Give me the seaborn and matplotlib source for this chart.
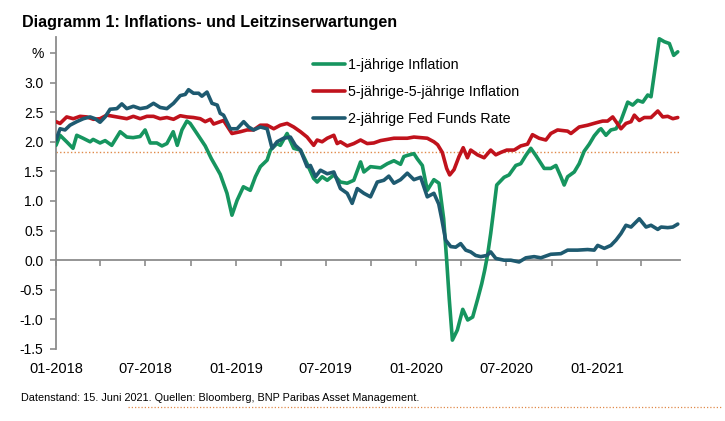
import numpy as np
import pandas as pd
import matplotlib
matplotlib.use("Agg")
import matplotlib.pyplot as plt
import matplotlib.dates as mdates
from matplotlib.lines import Line2D
import seaborn as sns

# ---------------- data (x = months since 01-2018) ----------------
green_m = [0, 0.27, 0.71, 1.13, 1.38, 1.8, 2.27, 2.47, 2.93, 3.27, 3.71, 4.27, 4.71, 5.13, 5.6, 5.93,
           6.27, 6.71, 7.05, 7.38, 7.8, 8.07, 8.38, 8.71, 8.93, 9.38, 9.93, 10.33, 10.71, 10.93, 11.38,
           11.71, 12.05, 12.47, 12.93, 13.27, 13.6, 14.05, 14.27, 14.71, 14.93, 15.38, 15.82, 16.27,
           16.71, 17.15, 17.38, 17.71, 18.05, 18.49, 18.93, 19.38, 19.82, 20.27, 20.49, 20.93, 21.6,
           22.05, 22.49, 22.93, 23.15, 23.38, 23.82, 24.05, 24.38, 24.71, 25.15, 25.49, 25.8, 26.0,
           26.17, 26.38, 26.71, 27.07, 27.4, 27.73, 28.07, 28.33, 28.53, 28.73, 28.93, 29.07, 29.33,
           29.82, 30.15, 30.6, 30.93, 31.27, 31.6, 31.93, 32.49, 32.93, 33.27, 33.6, 33.82, 34.05,
           34.49, 34.82, 35.15, 35.49, 35.82, 36.15, 36.27, 36.6, 36.93, 37.27, 37.6, 38.05, 38.38,
           38.71, 39.05, 39.38, 39.6, 39.82, 40.15, 40.49, 40.82, 41.11, 41.38]
green_v = [1.94, 2.11, 2.0, 1.89, 2.11, 2.06, 2.0, 2.04, 1.98, 2.02, 1.94, 2.17, 2.08, 2.07, 2.09, 2.2,
           1.98, 1.98, 1.93, 1.97, 2.17, 1.94, 2.2, 2.35, 2.31, 2.14, 1.93, 1.72, 1.55, 1.45, 1.13,
           0.76, 1.01, 1.24, 1.18, 1.41, 1.58, 1.69, 1.86, 1.97, 1.94, 2.14, 1.89, 1.86,
           1.63, 1.38, 1.32, 1.41, 1.35, 1.44, 1.32, 1.3, 1.35, 1.66, 1.49, 1.58, 1.56,
           1.63, 1.68, 1.62, 1.75, 1.77, 1.8, 1.71, 1.6, 1.18, 1.36, 1.3, 0.7, 0.0,
           -0.65, -1.35, -1.18, -0.83, -1.01, -0.96, -0.65, -0.4, -0.17, 0.1, 0.45, 0.73, 1.27,
           1.4, 1.44, 1.6, 1.63, 1.77, 1.89, 1.77, 1.55, 1.55, 1.6, 1.41, 1.27, 1.41,
           1.49, 1.63, 1.84, 1.96, 2.1, 2.2, 2.22, 2.11, 2.2, 2.22, 2.36, 2.67, 2.62,
           2.7, 2.67, 2.79, 2.76, 3.15, 3.74, 3.69, 3.66, 3.46, 3.52]

red_m = [0, 0.27, 0.71, 1.15, 1.6, 2.05, 2.49, 2.93, 3.38, 3.82, 4.27, 4.71, 5.15, 5.6, 6.05, 6.49,
         6.93, 7.38, 7.82, 8.27, 8.71, 9.15, 9.6, 9.93, 10.27, 10.49, 10.82, 11.15, 11.71, 12.27,
         12.71, 13.15, 13.6, 14.05, 14.49, 14.93, 15.38, 15.82, 16.27, 16.71, 17.15, 17.38, 17.71,
         18.05, 18.49, 18.71, 18.93, 19.38, 19.82, 20.27, 20.71, 21.15, 21.6, 22.05, 22.49, 22.93,
         23.38, 23.82, 24.27, 24.71, 25.15, 25.4, 25.71, 26.0, 26.2, 26.49, 26.82, 27.1, 27.38,
         27.6, 28.05, 28.49, 28.93, 29.27, 29.6, 30.0, 30.49, 30.93, 31.38, 31.71, 32.15, 32.6,
         32.93, 33.38, 34.05, 34.27, 34.82, 35.38, 35.93, 36.38, 36.71, 37.05, 37.27, 37.6, 37.93,
         38.27, 38.49, 38.82, 39.15, 39.6, 40.05, 40.38, 40.71, 41.05, 41.38]
red_v = [2.34, 2.31, 2.42, 2.39, 2.43, 2.42, 2.38, 2.39, 2.45, 2.43, 2.41, 2.39, 2.43, 2.39, 2.43, 2.43,
         2.39, 2.41, 2.38, 2.44, 2.42, 2.41, 2.39, 2.34, 2.38, 2.3, 2.33, 2.36, 2.14, 2.17,
         2.2, 2.2, 2.28, 2.28, 2.22, 2.28, 2.31, 2.25, 2.17, 2.08, 1.94, 2.03, 2.0,
         2.06, 2.11, 1.97, 2.0, 1.93, 1.97, 2.03, 1.97, 1.98, 2.02, 2.04, 2.06, 2.06,
         2.06, 2.08, 2.07, 2.06, 2.0, 1.95, 1.82, 1.55, 1.44, 1.53, 1.75, 1.9, 1.73,
         1.86, 1.78, 1.73, 1.86, 1.78, 1.82, 1.86, 1.86, 1.93, 1.96, 2.12, 2.06, 2.03,
         2.14, 2.2, 2.18, 2.14, 2.25, 2.28, 2.32, 2.35, 2.35, 2.42, 2.34, 2.22, 2.31,
         2.34, 2.45, 2.36, 2.41, 2.41, 2.52, 2.42, 2.43, 2.39, 2.41]

blue_m = [0, 0.27, 0.6, 0.93, 1.38, 1.82, 2.27, 2.6, 2.93, 3.27, 3.6, 4.05, 4.38, 4.71, 5.15, 5.6,
          6.05, 6.49, 6.93, 7.38, 7.82, 8.27, 8.6, 8.82, 9.15, 9.49, 9.71, 10.05, 10.38, 10.73,
          10.93, 11.15, 11.6, 12.05, 12.49, 12.82, 13.15, 13.6, 14.05, 14.38, 14.71, 15.15, 15.6,
          15.93, 16.27, 16.71, 16.93, 17.27, 17.6, 18.05, 18.49, 18.93, 19.38, 19.71, 20.05, 20.49,
          20.93, 21.38, 21.82, 22.15, 22.49, 22.93, 23.38, 23.82, 24.27, 24.71, 25.15, 25.47, 25.67,
          25.93, 26.27, 26.6, 26.93, 27.27, 27.6, 27.93, 28.27, 28.67, 28.93, 29.27, 29.82, 30.27,
          30.82, 31.27, 31.82, 32.27, 32.93, 33.6, 34.05, 34.71, 35.38, 35.82, 36.05, 36.49, 36.93,
          37.27, 37.6, 37.93, 38.27, 38.82, 39.27, 39.6, 40.05, 40.27, 40.71, 41.05, 41.38]
blue_v = [2.03, 2.22, 2.2, 2.28, 2.34, 2.39, 2.42, 2.39, 2.33, 2.42, 2.55, 2.56, 2.64, 2.56, 2.6, 2.56,
          2.58, 2.65, 2.58, 2.56, 2.65, 2.78, 2.8, 2.88, 2.82, 2.82, 2.77, 2.84, 2.65, 2.62,
          2.48, 2.45, 2.22, 2.22, 2.34, 2.25, 2.2, 2.25, 2.22, 1.89, 2.0, 2.06, 2.08,
          1.94, 1.86, 1.58, 1.6, 1.41, 1.52, 1.46, 1.49, 1.21, 1.13, 0.96, 1.21, 1.13,
          1.07, 1.32, 1.35, 1.42, 1.3, 1.36, 1.47, 1.36, 1.4, 1.07, 1.13, 0.95, 0.7,
          0.34, 0.23, 0.22, 0.28, 0.17, 0.14, 0.08, 0.06, 0.08, 0.14, 0.03, 0.0, 0.0,
          -0.03, 0.04, 0.06, 0.04, 0.1, 0.11, 0.17, 0.17, 0.18, 0.17, 0.25, 0.2, 0.25,
          0.34, 0.45, 0.59, 0.56, 0.7, 0.56, 0.59, 0.52, 0.56, 0.55, 0.56, 0.61]

series_names = ["1-jährige Inflation", "5-jährige-5-jährige Inflation", "2-jährige Fed Funds Rate"]
series_colors = ["#16955f", "#c0121c", "#1e5a70"]
ref_level = 1.83

y_ticks = [-1.5, -1.0, -0.5, 0.0, 0.5, 1.0, 1.5, 2.0, 2.5, 3.0, 3.5]
y_labels = ["-1.5", "-1.0", "-0.5", "0.0", "0.5", "1.0", "1.5", "2.0", "2.5", "3.0", "%"]

title = "Diagramm 1: Inflations- und Leitzinserwartungen"
footer = "Datenstand: 15. Juni 2021. Quellen: Bloomberg, BNP Paribas Asset Management."

# ---------------- build frame ----------------
base = pd.Timestamp("2018-01-01")
frames = []
for name, m, v in zip(series_names, [green_m, red_m, blue_m], [green_v, red_v, blue_v]):
    d = base + pd.to_timedelta(np.asarray(m) * 30.436875, unit="D")
    frames.append(pd.DataFrame({"Datum": d, "Wert": v, "Serie": name}))
df = pd.concat(frames, ignore_index=True)

# ---------------- style ----------------
sns.set_style("white")
plt.rcParams["font.family"] = ["Liberation Sans", "DejaVu Sans"]
plt.rcParams["text.color"] = "black"
plt.rcParams["xtick.labelcolor"] = "black"
plt.rcParams["ytick.labelcolor"] = "black"

fig = plt.figure(figsize=(7.25, 4.21), dpi=100)
ax = fig.add_axes([56 / 725, 1 - 349 / 421, 624 / 725, 312 / 421])

ax.axhline(ref_level, color="#e08a4a", lw=1.0, ls=(0, (1, 1.6)), zorder=1)

sns.lineplot(data=df, x="Datum", y="Wert", hue="Serie", hue_order=series_names,
             palette=dict(zip(series_names, series_colors)), estimator=None, sort=False,
             linewidth=2.6, ax=ax, zorder=3)

ax.set_ylim(-1.5, 3.77)
ax.set_xlim(base, pd.Timestamp("2021-06-18"))
ax.set_yticks(y_ticks)
ax.set_yticklabels(y_labels)
ax.set_xlabel("")
ax.set_ylabel("")

grey = "#8c8c8c"
for s in ["top", "right"]:
    ax.spines[s].set_visible(False)
ax.spines["left"].set_color(grey)
ax.spines["left"].set_linewidth(1.3)
ax.spines["left"].set_bounds(-1.5, 3.77)
ax.spines["bottom"].set_position(("data", 0))
ax.spines["bottom"].set_color(grey)
ax.spines["bottom"].set_linewidth(1.3)

ax.xaxis.set_major_locator(mdates.MonthLocator(bymonth=[1, 7]))
ax.xaxis.set_minor_locator(mdates.MonthLocator(bymonth=[4, 10]))
ax.xaxis.set_major_formatter(mdates.DateFormatter("%m-%Y"))
ax.tick_params(axis="x", which="both", bottom=True, direction="out", length=4, width=1.2,
               color=grey, labelsize=10.5, pad=69, labelcolor="black")
ax.tick_params(axis="y", left=True, direction="out", length=4, width=1.2, color=grey,
               labelsize=10, pad=5, labelcolor="black")

leg = ax.legend(loc="upper left", bbox_to_anchor=(0.412, 0.932), frameon=False, fontsize=10.3,
                handlelength=2.25, handletextpad=0.2, labelspacing=0.9, borderpad=0,
                borderaxespad=0)
for t in leg.get_texts():
    t.set_color("black")

fig.text(22 / 725, 1 - 27 / 421, title, fontsize=11.6, fontweight="bold", va="baseline",
         ha="left", color="black")
fig.text(21 / 725, 1 - 398 / 421, footer, fontsize=7.8, va="center", ha="left", color="black")
fig.add_artist(Line2D([128 / 725, 722 / 725], [1 - 407 / 421, 1 - 407 / 421],
                      color="#e08a4a", lw=0.9, ls=(0, (1, 1.6))))

fig.savefig("out.png", dpi=100)
